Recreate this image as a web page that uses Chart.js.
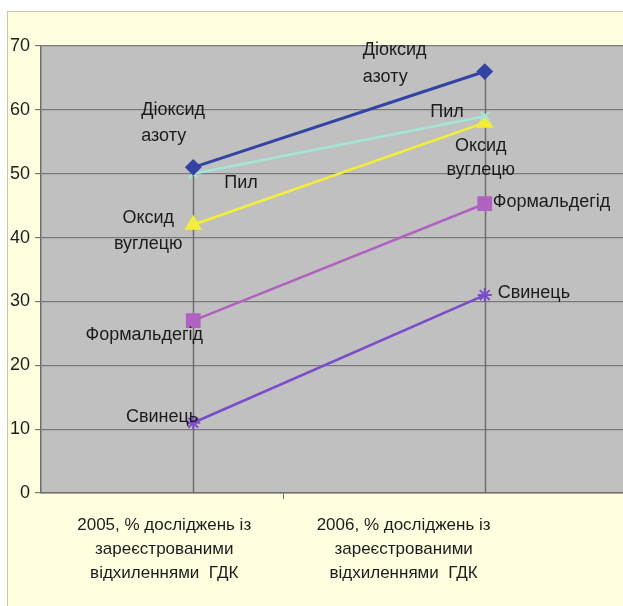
<!DOCTYPE html>
<html>
<head>
<meta charset="utf-8">
<script src="https://cdn.jsdelivr.net/npm/chart.js@4/dist/chart.umd.min.js"></script>
<style>
  html, body { margin: 0; padding: 0; background: #fff; }
  #frame {
    position: absolute; left: 7px; top: 11px;
    width: 616px; height: 595px;
    border-left: 1px solid #c9c9a8; border-top: 1px solid #c9c9a8;
    background: #ffffe0; overflow: hidden;
  }
  canvas { display: block; }
</style>
</head>
<body>
<div id="frame"><canvas id="chart" width="627" height="594"></canvas></div>
<script>
// category labels (each line separately)
const categories = [
  ['2005, % досліджень із', 'зареєстрованими', 'відхиленнями  ГДК'],
  ['2006, % досліджень із', 'зареєстрованими', 'відхиленнями  ГДК'],
];
const seriesNames = ['Діоксид азоту', 'Пил', 'Оксид вуглецю', 'Формальдегід', 'Свинець'];
const nitrogenDioxide = [51, 66];
const dust = [50, 59];
const carbonOxide = [42, 58];
const formaldehyde = [27, 45.3];
const lead = [11, 31];
const yTicks = [0, 10, 20, 30, 40, 50, 60, 70];

const seriesValues = [nitrogenDioxide, dust, carbonOxide, formaldehyde, lead];
const colors = ['#3343a3', '#a3e6d6', '#f4ef33', '#b062c0', '#7a4ccc'];
const styles = ['rectRot', 'crossRot', 'triangle', 'rect', 'star'];
const radii = [7, 6, 8, 9, 7];

// how each point's name is written beside it: lines, dx, dy, align, line step
const labelPlacement = [
  [{ lines: ['Діоксид', 'азоту'], dx: -52, dy: -57, align: 'left', lh: 26 },
   { lines: ['Діоксид', 'азоту'], dx: -122, dy: -22, align: 'left', lh: 27 }],
  [{ lines: ['Пил'], dx: 31, dy: 9, align: 'left' },
   { lines: ['Пил'], dx: -21, dy: -4, align: 'right' }],
  [{ lines: ['Оксид', 'вуглецю'], dx: -45, dy: -7, align: 'center', lh: 26 },
   { lines: ['Оксид', 'вуглецю'], dx: -4, dy: 23, align: 'center', lh: 24 }],
  [{ lines: ['Формальдегід'], dx: -49, dy: 14, align: 'center' },
   { lines: ['Формальдегід'], dx: 8, dy: -2, align: 'left' }],
  [{ lines: ['Свинець'], dx: 5, dy: -6, align: 'right' },
   { lines: ['Свинець'], dx: 13, dy: -2, align: 'left' }],
];

const FONT = '18px "Liberation Sans", Arial, sans-serif';

const backgroundPlugin = {
  id: 'plotBackground',
  beforeDraw(chart) {
    const { ctx, chartArea: a } = chart;
    ctx.save();
    ctx.fillStyle = '#c0c0c0';
    ctx.fillRect(a.left, a.top, a.right - a.left, a.bottom - a.top);
    ctx.restore();
  },
};

const dropLinesPlugin = {
  id: 'dropLines',
  beforeDatasetsDraw(chart) {
    const { ctx } = chart;
    const xs = chart.scales.x, ys = chart.scales.y;
    ctx.save();
    ctx.strokeStyle = '#6e6e6e';
    ctx.lineWidth = 1.5;
    categories.forEach((c, i) => {
      const top = Math.max(...seriesValues.map(s => s[i]));
      const x = Math.round(xs.getPixelForValue(i)) + 0.5;
      ctx.beginPath();
      ctx.moveTo(x, ys.getPixelForValue(top));
      ctx.lineTo(x, ys.getPixelForValue(0));
      ctx.stroke();
    });
    ctx.restore();
  },
};

const pointNamesPlugin = {
  id: 'pointNames',
  afterDatasetsDraw(chart) {
    const { ctx } = chart;
    ctx.save();
    ctx.font = FONT;
    ctx.fillStyle = '#1c1c1c';
    ctx.textBaseline = 'middle';
    chart.data.datasets.forEach((ds, d) => {
      chart.getDatasetMeta(d).data.forEach((pt, i) => {
        const p = labelPlacement[d][i];
        ctx.textAlign = p.align;
        p.lines.forEach((line, k) => {
          ctx.fillText(line, pt.x + p.dx, pt.y + p.dy + k * (p.lh || 26));
        });
      });
    });
    ctx.restore();
  },
};

new Chart(document.getElementById('chart'), {
  type: 'line',
  data: {
    datasets: seriesNames.map((name, d) => ({
      label: name,
      data: seriesValues[d].map((v, i) => ({ x: i, y: v })),
      borderColor: colors[d],
      backgroundColor: colors[d],
      pointBackgroundColor: colors[d],
      pointBorderColor: colors[d],
      pointStyle: styles[d],
      pointRadius: radii[d],
      pointBorderWidth: 2,
      borderWidth: d === 0 ? 3 : 2.5,
      tension: 0,
      xAxisID: 'x',
      yAxisID: 'y',
    })),
  },
  options: {
    responsive: false,
    devicePixelRatio: 1,
    animation: false,
    layout: { padding: { top: 34, left: 0, right: 0, bottom: 0 } },
    plugins: { legend: { display: false }, tooltip: { enabled: false } },
    scales: {
      x: {
        type: 'linear',
        display: false,
        bounds: 'data',
        min: -0.5223,
        max: 1.4777,
      },
      xl: {
        type: 'linear',
        axis: 'x',
        position: 'bottom',
        bounds: 'data',
        min: -0.5146,
        max: 1.9205,
        afterBuildTicks(scale) {
          scale.ticks = [{ value: 0 }, { value: 0.5 }, { value: 1 }];
        },
        afterFit(scale) { scale.height = 113; },
        border: { display: true, color: '#6e6e6e', width: 1.5 },
        grid: {
          drawOnChartArea: false,
          tickLength: 6,
          tickColor: ctx => (ctx.tick && ctx.tick.value % 1 ? '#6e6e6e' : 'transparent'),
        },
        ticks: {
          autoSkip: false,
          maxRotation: 0,
          padding: 14,
          color: '#1c1c1c',
          font: { family: '"Liberation Sans", Arial, sans-serif', size: 17, lineHeight: 1.42 },
          callback: v => (v % 1 ? '' : categories[v]),
        },
      },
      y: {
        min: 0,
        max: 70,
        afterBuildTicks(scale) {
          scale.ticks = yTicks.map(v => ({ value: v }));
        },
        afterFit(scale) { scale.width = 33; },
        border: { display: true, color: '#6e6e6e', width: 1.5 },
        grid: { color: '#7a7a7a', lineWidth: 1.2, tickLength: 6 },
        ticks: {
          padding: 5,
          color: '#1c1c1c',
          font: { family: '"Liberation Sans", Arial, sans-serif', size: 18 },
        },
      },
    },
  },
  plugins: [backgroundPlugin, dropLinesPlugin, pointNamesPlugin],
});
</script>
</body>
</html>
